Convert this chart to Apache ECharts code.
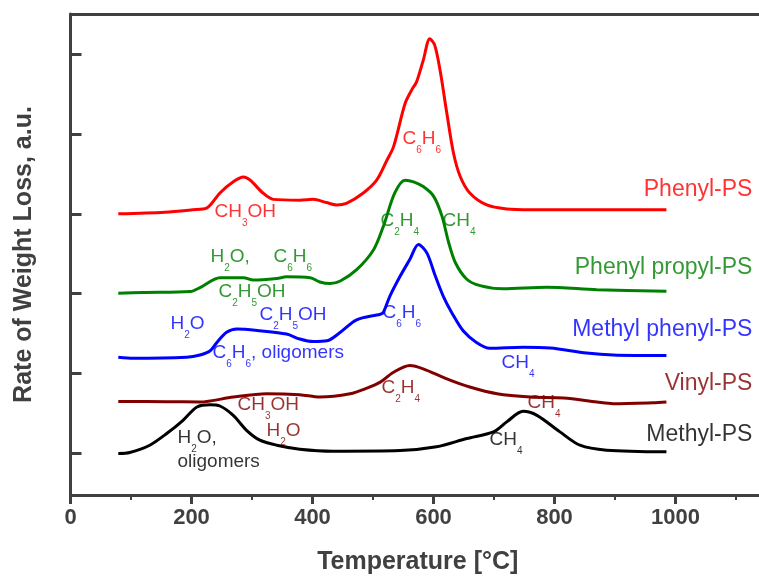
<!DOCTYPE html>
<html><head><meta charset="utf-8">
<script src="https://cdn.jsdelivr.net/npm/echarts@6/dist/echarts.min.js"></script>
<style>html,body{margin:0;padding:0;background:#fff}#c{width:759px;height:580px}</style>
</head><body><div id="c"></div>
<script>
// ---- data ----
const xTicks = [0, 200, 400, 600, 800, 1000];
const xMinorTicks = [100, 300, 500, 700, 900, 1100];
const yTicks = [0, 1, 2, 3, 4, 5];
const seriesNames = ['Phenyl-PS', 'Phenyl propyl-PS', 'Methyl phenyl-PS', 'Vinyl-PS', 'Methyl-PS'];

const phenylPS = [[79,3.00],[156,3.02],[202,3.05],[225,3.07],[247,3.26],[269,3.40],[286,3.46],[297,3.42],[318,3.26],[335,3.18],[379,3.17],[401,3.18],[423,3.14],[440,3.11],[456,3.13],[484,3.26],[506,3.42],[523,3.67],[534,3.84],[553,4.38],[564,4.55],[572,4.65],[583,4.92],[594,5.19],[602,5.11],[611,4.79],[622,4.26],[633,3.76],[644,3.47],[660,3.26],[688,3.11],[721,3.06],[760,3.05],[985,3.05]];
const phenylPropylPS = [[79,2.005],[120,2.014],[198,2.026],[214,2.076],[247,2.20],[286,2.20],[302,2.17],[341,2.19],[357,2.21],[396,2.20],[412,2.146],[429,2.126],[446,2.158],[473,2.30],[501,2.55],[517,2.84],[536,3.26],[553,3.42],[567,3.40],[583,3.34],[600,3.22],[614,2.97],[625,2.64],[636,2.39],[655,2.18],[677,2.10],[715,2.06],[787,2.08],[870,2.05],[985,2.03]];
const methylPhenylPS = [[79,1.204],[104,1.19],[192,1.204],[214,1.233],[231,1.286],[242,1.39],[258,1.516],[275,1.557],[313,1.535],[357,1.494],[379,1.432],[401,1.40],[424,1.41],[446,1.516],[473,1.672],[512,1.743],[517,1.765],[528,1.97],[545,2.22],[561,2.43],[575,2.615],[589,2.51],[603,2.22],[616,1.97],[630,1.765],[649,1.535],[671,1.39],[693,1.316],[748,1.33],[793,1.32],[853,1.258],[897,1.233],[985,1.225]];
const vinylPS = [[79,0.651],[159,0.648],[214,0.644],[269,0.706],[324,0.747],[379,0.735],[412,0.706],[462,0.747],[490,0.818],[512,0.893],[534,1.017],[561,1.10],[583,1.059],[622,0.934],[660,0.831],[705,0.747],[760,0.706],[815,0.694],[870,0.644],[897,0.623],[963,0.635],[985,0.644]];
const methylPS = [[79,0.0],[98,0.012],[131,0.103],[159,0.249],[186,0.415],[209,0.582],[231,0.61],[247,0.594],[269,0.477],[291,0.29],[313,0.166],[341,0.103],[379,0.054],[434,0.029],[545,0.037],[605,0.083],[655,0.187],[699,0.27],[721,0.395],[748,0.527],[771,0.477],[809,0.27],[842,0.103],[886,0.041],[985,0.021]];

// annotations: [temperature, value, text]  ("_n" = subscript n)
const phenylNotes = [[238.8,3.138,'CH_3OH'],[549.6,4.047,'C_6H_6']];
const phenylPropylNotes = [[232.2,2.578,'H_2O,'],[336.4,2.578,'C_6H_6'],[245.5,2.142,'C_2H_5OH'],[513.2,3.026,'C_2H_4'],[615.7,3.026,'CH_4']];
const methylPhenylNotes = [[166.1,1.731,'H_2O'],[313.2,1.843,'C_2H_5OH'],[235.5,1.37,'C_6H_6, oligomers'],[516.5,1.868,'C_6H_6'],[713.2,1.245,'CH_4']];
const vinylNotes = [[276.9,0.722,'CH_3OH'],[324.8,0.3985,'H_2O'],[514.9,0.934,'C_2H_4'],[756.2,0.747,'CH_4']];
const methylNotes = [[177.7,0.311,'H_2O,'],[177.7,0.0125,'oligomers'],[693.4,0.286,'CH_4']];

// series name label anchors (right end, value)
const nameLabelPos = [[1128,3.296],[1128,2.325],[1128,1.548],[1128,0.868],[1128,0.237]];

// ---- chart ----
const FONT = '"Liberation Sans", Arial, sans-serif';
const AX = '#404040';
const colors = ['#ff0000', '#008000', '#0000ff', '#800000', '#000000'];
const curves = [phenylPS, phenylPropylPS, methylPhenylPS, vinylPS, methylPS];
const notes = [phenylNotes, phenylPropylNotes, methylPhenylNotes, vinylNotes, methylNotes];

function toRich(t) {
  return t.split(/_(\d)/).map((p, i) => p === '' ? '' : (i % 2 ? '{s|' + p + '}' : '{n|' + p + '}')).join('');
}

const series = [];
curves.forEach((d, i) => {
  series.push({
    type: 'line', name: seriesNames[i], data: d, showSymbol: false, symbol: 'none',
    smooth: 0.3, lineStyle: { color: colors[i], width: 3 }, itemStyle: { color: colors[i] },
    silent: true, z: 3
  });
});
notes.forEach((arr, i) => {
  series.push({
    type: 'scatter', symbolSize: 1, silent: true, z: 5,
    itemStyle: { color: 'rgba(0,0,0,0)' },
    data: arr.map(a => ({ value: [a[0], a[1]], name: a[2] })),
    label: {
      show: true, position: [0, 0], align: 'left', verticalAlign: 'top',
      formatter: p => toRich(p.name),
      rich: {
        n: { fontSize: 19, lineHeight: 21, verticalAlign: 'top', color: colors[i], fontFamily: FONT },
        s: { fontSize: 10, lineHeight: 42, verticalAlign: 'middle', color: colors[i], fontFamily: FONT }
      }
    }
  });
});
series.push({
  type: 'scatter', symbolSize: 1, silent: true, z: 5,
  itemStyle: { color: 'rgba(0,0,0,0)' },
  data: nameLabelPos.map((p, i) => ({ value: p, name: seriesNames[i], label: { color: colors[i] } })),
  label: { show: true, position: 'left', distance: 0, formatter: p => p.name, fontSize: 23, fontFamily: FONT }
});

const chart = echarts.init(document.getElementById('c'), null, { renderer: 'canvas' });
chart.setOption({
  animation: false,
  backgroundColor: '#fff',
  grid: { left: 70.5, right: 0, top: 14, bottom: 83, containLabel: false },
  xAxis: [
    {
      type: 'value', min: 0, max: 1138, position: 'bottom',
      axisLine: { show: true, onZero: false, lineStyle: { color: AX, width: 3 } },
      axisTick: { show: true, inside: false, length: 9, customValues: xTicks, lineStyle: { color: AX, width: 3 } },
      axisLabel: { customValues: xTicks, formatter: v => String(v), fontSize: 22, fontWeight: 'bold', color: AX, margin: 12, fontFamily: FONT },
      splitLine: { show: false },
      name: 'Temperature [°C]', nameLocation: 'middle', nameGap: 55,
      nameTextStyle: { fontSize: 25, fontWeight: 'bold', color: AX, fontFamily: FONT, padding: [0, 0, 0, 6] }
    },
    {
      type: 'value', min: 0, max: 1138, position: 'top',
      axisLine: { show: true, onZero: false, lineStyle: { color: AX, width: 3 } },
      axisTick: { show: false }, axisLabel: { show: false }, splitLine: { show: false }
    },
    {
      type: 'value', min: 0, max: 1138, position: 'bottom',
      axisLine: { show: false, onZero: false },
      axisTick: { show: true, inside: false, length: 5, customValues: xMinorTicks, lineStyle: { color: AX, width: 2 } },
      axisLabel: { show: false }, splitLine: { show: false }
    }
  ],
  yAxis: {
    type: 'value', min: -0.52, max: 5.5,
    axisLine: { show: true, onZero: false, lineStyle: { color: AX, width: 3 } },
    axisTick: { show: true, inside: true, length: 11, customValues: yTicks, lineStyle: { color: AX, width: 3 } },
    axisLabel: { show: false }, splitLine: { show: false },
    name: 'Rate of Weight Loss, a.u.', nameLocation: 'middle', nameGap: 34, nameRotate: 90,
    nameTextStyle: { fontSize: 25, fontWeight: 'bold', color: AX, fontFamily: FONT }
  },
  series: series
});
</script>
</body></html>
